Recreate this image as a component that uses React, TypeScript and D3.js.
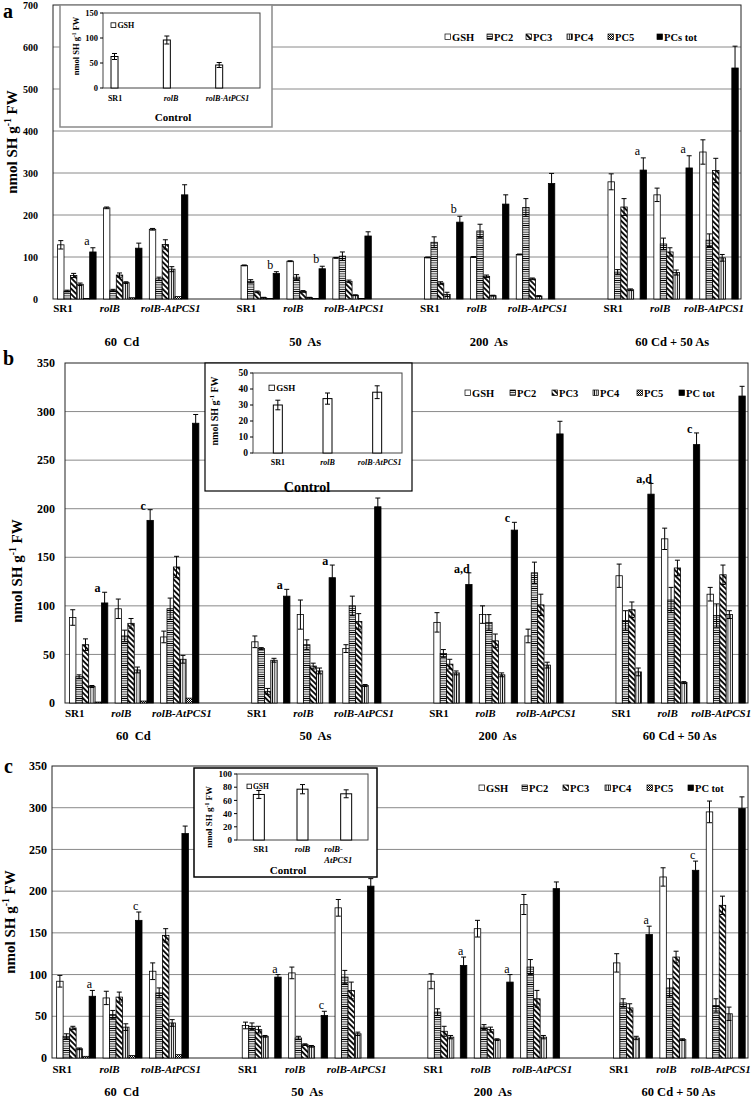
import React from "react";
import * as d3 from "d3";

const FONT = "'Liberation Serif', 'Times New Roman', serif";

// ---------- shared categories ----------
const treatments = ["60  Cd", "50  As", "200  As", "60 Cd + 50 As"];
const genotypes = ["SR1", "rolB", "rolB-AtPCS1"];
const seriesKeys = ["GSH", "PC2", "PC3", "PC4", "PC5", "PCtot"];
const legendA = ["GSH", "PC2", "PC3", "PC4", "PC5", "PCs tot"];
const legendBC = ["GSH", "PC2", "PC3", "PC4", "PC5", "PC tot"];

// ---------- panel a ----------
const aGSH = [129, 217, 166, 80, 90, 98, 99, 100, 106, 279, 248, 350];
const aGSHErr = [10, 2, 2, 1, 1, 1, 1, 1, 1, 19, 16, 29];
const aPC2 = [19, 21, 48, 42, 52, 102, 135, 162, 218, 64, 131, 140];
const aPC2Err = [2, 2, 4, 4, 6, 10, 13, 16, 21, 6, 14, 15];
const aPC3 = [56, 57, 130, 17, 18, 42, 38, 54, 48, 219, 112, 306];
const aPC3Err = [5, 5, 11, 2, 2, 3, 3, 3, 2, 20, 10, 29];
const aPC4 = [35, 39, 71, 3, 3, 9, 11, 8, 7, 22, 63, 98];
const aPC4Err = [3, 2, 6, 1, 1, 1, 5, 1, 1, 2, 6, 8];
const aPC5 = [1, 3, 6, 1, 1, 1, 0, 0, 0, 0, 0, 0];
const aPC5Err = [0, 0, 0, 0, 0, 0, 0, 0, 0, 0, 0, 0];
const aTot = [112, 121, 248, 61, 72, 150, 183, 226, 275, 307, 312, 550];
const aTotErr = [10, 12, 24, 4, 6, 10, 14, 22, 24, 29, 29, 52];
const aLetters = ["a", "", "", "b", "b", "", "b", "", "", "a", "a", ""];
const aYTicks = [0, 100, 200, 300, 400, 500, 600, 700];

// panel a inset (control)
const aCtrl = [63, 96, 46];
const aCtrlErr = [6, 8, 5];
const aCtrlTicks = [0, 50, 100, 150];

// ---------- panel b ----------
const bGSH = [88, 97, 68, 63, 91, 56, 83, 91, 69, 131, 169, 112];
const bGSHErr = [8, 10, 6, 6, 15, 4, 10, 9, 7, 12, 11, 7];
const bPC2 = [27, 69, 97, 56, 60, 100, 51, 83, 134, 85, 106, 90];
const bPC2Err = [2, 6, 11, 1, 5, 10, 4, 8, 11, 10, 13, 12];
const bPC3 = [60, 82, 140, 12, 38, 84, 40, 64, 101, 96, 139, 132];
const bPC3Err = [6, 5, 11, 3, 3, 8, 5, 7, 11, 8, 8, 10];
const bPC4 = [17, 34, 45, 44, 33, 18, 31, 29, 39, 32, 21, 91];
const bPC4Err = [1, 3, 4, 2, 3, 1, 2, 2, 3, 4, 1, 4];
const bPC5 = [1, 2, 5, 0, 0, 0, 0, 0, 0, 0, 0, 0];
const bPC5Err = [0, 0, 0, 0, 0, 0, 0, 0, 0, 0, 0, 0];
const bTot = [103, 188, 288, 110, 129, 202, 122, 178, 277, 215, 266, 316];
const bTotErr = [11, 11, 9, 7, 13, 9, 12, 8, 13, 11, 12, 10];
const bLetters = ["a", "c", "", "a", "a", "", "a,d", "c", "", "a,d", "c", ""];
const bYTicks = [0, 50, 100, 150, 200, 250, 300, 350];

const bCtrl = [30, 34, 38];
const bCtrlErr = [3, 3.5, 4];
const bCtrlTicks = [0, 10, 20, 30, 40, 50];

// ---------- panel c ----------
const cGSH = [92, 72, 104, 39, 102, 180, 92, 155, 184, 114, 217, 295];
const cGSHErr = [7, 8, 10, 4, 7, 10, 9, 10, 12, 11, 11, 13];
const cPC2 = [26, 52, 78, 38, 24, 97, 55, 37, 109, 66, 84, 63];
const cPC2Err = [3, 5, 6, 4, 2, 8, 4, 3, 9, 5, 11, 8];
const cPC3 = [36, 73, 147, 34, 16, 81, 32, 34, 71, 60, 121, 183];
const cPC3Err = [2, 6, 8, 4, 1, 10, 6, 3, 10, 5, 7, 11];
const cPC4 = [11, 37, 42, 26, 14, 29, 25, 22, 25, 24, 22, 53];
const cPC4Err = [1, 4, 4, 1, 1, 2, 2, 1, 2, 2, 1, 8];
const cPC5 = [2, 3, 4, 0, 0, 0, 0, 0, 0, 0, 0, 0];
const cPC5Err = [0, 0, 0, 0, 0, 0, 0, 0, 0, 0, 0, 0];
const cTot = [74, 165, 269, 97, 51, 206, 111, 91, 203, 148, 225, 299];
const cTotErr = [7, 10, 9, 3, 5, 9, 10, 9, 8, 10, 11, 14];
const cLetters = ["a", "c", "", "a", "c", "", "a", "a", "", "a", "c", ""];
const cYTicks = [0, 50, 100, 150, 200, 250, 300, 350];

const cCtrl = [69, 77, 70];
const cCtrlErr = [6, 7, 6];
const cCtrlTicks = [0, 20, 40, 60, 80, 100];

const fills: Record<string, string> = {
  GSH: "#fff",
  PC2: "url(#pPC2)",
  PC3: "url(#pPC3)",
  PC4: "url(#pPC4)",
  PC5: "url(#pPC5)",
  PCtot: "#000",
};

type Series = { key: string; vals: number[]; errs: number[] };

function YTitle({ x, y, size }: { x: number; y: number; size: number }) {
  return (
    <text
      transform={`translate(${x},${y}) rotate(-90)`}
      textAnchor="middle"
      fontWeight="bold"
      fontSize={size}
      fontFamily={FONT}
      fill="#000"
    >
      nmol SH g
      <tspan dy={-size * 0.38} fontSize={size * 0.65}>
        -1
      </tspan>
      <tspan dy={size * 0.38}> FW</tspan>
    </text>
  );
}

function ErrBar({ x, y0, y1, cap }: { x: number; y0: number; y1: number; cap: number }) {
  return (
    <g stroke="#000" strokeWidth={1}>
      <line x1={x} x2={x} y1={y0} y2={y1} />
      <line x1={x - cap / 2} x2={x + cap / 2} y1={y0} y2={y0} />
      <line x1={x - cap / 2} x2={x + cap / 2} y1={y1} y2={y1} />
    </g>
  );
}

function Panel(p: any) {
  const series: Series[] = p.series;
  const y = d3.scaleLinear().domain([0, p.max]).range([p.bottom, p.top]);
  const slots = d3.range(15);
  const x = d3.scaleBand<number>().domain(slots).range([p.left, p.right]).padding(0);
  const bw = x.bandwidth();
  const inner = d3
    .scaleBand<string>()
    .domain(seriesKeys)
    .range([bw * 0.1, bw * 0.94])
    .padding(0);
  const slotOf = (i: number) => Math.floor(i / 3) * 4 + (i % 3);
  const genoOffsets = [-13, -12, 3];
  return (
    <g fontFamily={FONT} fill="#000">
      {p.ticks.map((t: number) =>
        t > 0 && t < p.max ? (
          <line key={t} x1={p.left} x2={p.right} y1={y(t)} y2={y(t)} stroke="#8a8a8a" strokeWidth={1} />
        ) : null
      )}
      <rect x={p.left} y={p.top} width={p.right - p.left} height={p.bottom - p.top} fill="none" stroke="#222" strokeWidth={1} />
      {p.ticks.map((t: number) => (
        <text key={t} x={p.tickX} y={y(t) + p.tickFont * 0.35} textAnchor="end" fontWeight="bold" fontSize={p.tickFont}>
          {t}
        </text>
      ))}
      {series.map((s) =>
        s.vals.map((v, i) => {
          const bx = (x(slotOf(i)) as number) + (inner(s.key) as number);
          const w = inner.bandwidth();
          return (
            <rect
              key={s.key + i}
              x={bx}
              y={y(v)}
              width={w}
              height={y(0) - y(v)}
              fill={fills[s.key]}
              stroke="#000"
              strokeWidth={0.8}
            />
          );
        })
      )}
      {series.map((s) =>
        s.vals.map((v, i) => {
          const e = s.errs[i];
          if (!e) return null;
          const cx = (x(slotOf(i)) as number) + (inner(s.key) as number) + inner.bandwidth() / 2;
          return <ErrBar key={"e" + s.key + i} x={cx} y0={y(v + e)} y1={y(Math.max(0, v - e))} cap={5} />;
        })
      )}
      {p.letters.map((l: string, i: number) => {
        if (!l) return null;
        const tot = series[5];
        const cx = (x(slotOf(i)) as number) + (inner("PCtot") as number) + inner.bandwidth() / 2;
        return (
          <text
            key={"l" + i}
            x={cx + p.annoDx}
            y={y(tot.vals[i] + tot.errs[i]) + p.annoDy}
            textAnchor="middle"
            fontSize={12}
            fill="#000"
            fontWeight={p.annoBold ? "bold" : "normal"}
          >
            {l}
          </text>
        );
      })}
      {d3.range(12).map((i) => {
        const g = i % 3;
        const off = i === 11 ? -4 : genoOffsets[g];
        const cx = (x(slotOf(i)) as number) + bw / 2 + off;
        return (
          <text
            key={"g" + i}
            x={cx}
            y={p.labelY}
            textAnchor="middle"
            fontWeight="bold"
            fontStyle={g === 0 ? "normal" : "italic"}
            fontSize={11}
          >
            {genotypes[g]}
          </text>
        );
      })}
      {treatments.map((t, k) => (
        <text
          key={t}
          x={(x(k * 4 + 1) as number) + bw / 2}
          y={p.groupY}
          textAnchor="middle"
          fontWeight="bold"
          fontSize={12.5}
          style={{ whiteSpace: "pre" }}
        >
          {t}
        </text>
      ))}
      {seriesKeys.map((k, j) => (
        <g key={"lg" + k}>
          <rect x={p.legendX[j]} y={p.legendY - 7} width={5.5} height={5.5} fill={fills[k]} stroke="#000" strokeWidth={0.7} />
          <text x={p.legendX[j] + 7} y={p.legendY} fontWeight="bold" fontSize={10.5}>
            {p.legendLabels[j]}
          </text>
        </g>
      ))}
      <text x={p.letterX} y={p.letterY} fontWeight="bold" fontSize={20}>
        {p.letter}
      </text>
      <YTitle x={p.titleX} y={p.titleY} size={15} />
    </g>
  );
}

function Inset(p: any) {
  const y = d3.scaleLinear().domain([0, p.max]).range([p.pb, p.pt]);
  const x = d3.scaleBand<number>().domain([0, 1, 2]).range([p.pl, p.pr]).padding(0);
  const bw = x.bandwidth();
  return (
    <g fontFamily={FONT} fill="#000">
      <rect x={p.bx} y={p.by} width={p.bw} height={p.bh} fill="#fff" stroke={p.boxStroke} strokeWidth={p.boxWidth} />
      <rect x={p.pl} y={p.pt} width={p.pr - p.pl} height={p.pb - p.pt} fill="none" stroke="#444" strokeWidth={1} />
      {p.ticks.map((t: number) => (
        <g key={t}>
          <line x1={p.pl - 3} x2={p.pl} y1={y(t)} y2={y(t)} stroke="#000" />
          <text x={p.pl - 5} y={y(t) + p.tickFont * 0.35} textAnchor="end" fontWeight="bold" fontSize={p.tickFont}>
            {t}
          </text>
        </g>
      ))}
      {p.vals.map((v: number, i: number) => {
        const cx = (x(i) as number) + bw * p.barFrac;
        return (
          <g key={i}>
            <rect x={cx - p.barW / 2} y={y(v)} width={p.barW} height={y(0) - y(v)} fill="#fff" stroke="#000" strokeWidth={1} />
            <ErrBar x={cx} y0={y(v + p.errs[i])} y1={y(v - p.errs[i])} cap={5} />
          </g>
        );
      })}
      {genotypes.map((g, i) => {
        const cx = (x(i) as number) + bw * p.labelFrac[i];
        if (p.splitLast && i === 2) {
          return (
            <text key={g} x={cx} y={p.labelY} textAnchor="start" fontWeight="bold" fontStyle="italic" fontSize={p.labelFont}>
              <tspan x={cx}>rolB-</tspan>
              <tspan x={cx} dy={p.labelFont * 1.35}>
                AtPCS1
              </tspan>
            </text>
          );
        }
        return (
          <text
            key={g}
            x={cx}
            y={p.labelY}
            textAnchor="middle"
            fontWeight="bold"
            fontStyle={i === 0 ? "normal" : "italic"}
            fontSize={p.labelFont}
          >
            {g}
          </text>
        );
      })}
      <text x={p.ctrlX} y={p.ctrlY} textAnchor="middle" fontWeight="bold" fontSize={p.ctrlFont}>
        Control
      </text>
      <rect x={p.lgX} y={p.lgY - p.lgFont * 0.65} width={p.lgFont * 0.6} height={p.lgFont * 0.6} fill="#fff" stroke="#000" strokeWidth={0.8} />
      <text x={p.lgX + p.lgFont * 0.8} y={p.lgY} fontWeight="bold" fontSize={p.lgFont}>
        GSH
      </text>
      <YTitle x={p.titleX} y={p.titleY} size={p.titleFont} />
    </g>
  );
}

function mk(keys: string[], vals: number[][], errs: number[][]): Series[] {
  return keys.map((k, i) => ({ key: k, vals: vals[i], errs: errs[i] }));
}

const seriesA = mk(seriesKeys, [aGSH, aPC2, aPC3, aPC4, aPC5, aTot], [aGSHErr, aPC2Err, aPC3Err, aPC4Err, aPC5Err, aTotErr]);
const seriesB = mk(seriesKeys, [bGSH, bPC2, bPC3, bPC4, bPC5, bTot], [bGSHErr, bPC2Err, bPC3Err, bPC4Err, bPC5Err, bTotErr]);
const seriesC = mk(seriesKeys, [cGSH, cPC2, cPC3, cPC4, cPC5, cTot], [cGSHErr, cPC2Err, cPC3Err, cPC4Err, cPC5Err, cTotErr]);

export default function App() {
  return (
    <svg
      width={756}
      height={1098}
      style={{ position: "absolute", left: 0, top: 0, background: "#fff" }}
    >
      <defs>
        <pattern id="pPC2" width={4} height={2.2} patternUnits="userSpaceOnUse">
          <rect width={4} height={2.2} fill="#fff" />
          <line x1={0} x2={4} y1={1.1} y2={1.1} stroke="#000" strokeWidth={0.9} />
        </pattern>
        <pattern id="pPC3" width={4} height={3.8} patternUnits="userSpaceOnUse" patternTransform="rotate(45)">
          <rect width={4} height={3.8} fill="#fff" />
          <line x1={0} x2={4} y1={1.9} y2={1.9} stroke="#000" strokeWidth={1.8} />
        </pattern>
        <pattern id="pPC4" width={2.3} height={4} patternUnits="userSpaceOnUse">
          <rect width={2.3} height={4} fill="#fff" />
          <line x1={1.15} x2={1.15} y1={0} y2={4} stroke="#000" strokeWidth={0.9} />
        </pattern>
        <pattern id="pPC5" width={2} height={2} patternUnits="userSpaceOnUse">
          <rect width={2} height={2} fill="#fff" />
          <rect width={1} height={1} fill="#000" />
          <rect x={1} y={1} width={1} height={1} fill="#000" />
        </pattern>
      </defs>

      <Panel
        series={seriesA}
        letters={aLetters}
        ticks={aYTicks}
        max={700}
        left={53}
        right={741}
        top={5}
        bottom={299}
        tickX={38}
        tickFont={10}
        labelY={312}
        groupY={346}
        legendX={[445, 487, 526, 567, 608, 657]}
        legendY={41}
        legendLabels={legendA}
        letter="a"
        letterX={3}
        letterY={18}
        titleX={17}
        titleY={142}
        annoDx={-6}
        annoDy={-3}
        annoBold={false}
      />
      <Inset
        bx={60}
        by={5}
        bw={212}
        bh={122}
        boxStroke="#8a8a8a"
        boxWidth={1.5}
        pl={103}
        pr={260}
        pt={13}
        pb={88}
        max={150}
        ticks={aCtrlTicks}
        tickFont={8.5}
        vals={aCtrl}
        errs={aCtrlErr}
        barW={7}
        barFrac={0.22}
        labelFrac={[0.23, 0.3, 0.38]}
        labelY={101}
        labelFont={8}
        ctrlX={173}
        ctrlY={121}
        ctrlFont={11}
        lgX={111}
        lgY={28}
        lgFont={8}
        titleX={79}
        titleY={46}
        titleFont={8.5}
      />

      <Panel
        series={seriesB}
        letters={bLetters}
        ticks={bYTicks}
        max={350}
        left={65}
        right={748}
        top={363}
        bottom={703}
        tickX={55}
        tickFont={12}
        labelY={717}
        groupY={740}
        legendX={[465, 510, 552, 593, 637, 679]}
        legendY={397}
        legendLabels={legendBC}
        letter="b"
        letterX={3}
        letterY={365}
        titleX={22}
        titleY={571}
        annoDx={-7}
        annoDy={0}
        annoBold={true}
      />
      <Inset
        bx={205}
        by={363}
        bw={207}
        bh={128}
        boxStroke="#000"
        boxWidth={1.2}
        pl={253}
        pr={402}
        pt={373}
        pb={453}
        max={50}
        ticks={bCtrlTicks}
        tickFont={9.5}
        vals={bCtrl}
        errs={bCtrlErr}
        barW={9}
        barFrac={0.5}
        labelFrac={[0.5, 0.5, 0.55]}
        labelY={465}
        labelFont={8}
        ctrlX={307}
        ctrlY={492}
        ctrlFont={14}
        lgX={269}
        lgY={391}
        lgFont={9}
        titleX={218}
        titleY={411}
        titleFont={10}
      />

      <Panel
        series={seriesC}
        letters={cLetters}
        ticks={cYTicks}
        max={350}
        left={52}
        right={748}
        top={766}
        bottom={1058}
        tickX={47}
        tickFont={12}
        labelY={1073}
        groupY={1096}
        legendX={[479, 522, 563, 605, 647, 688]}
        legendY={792}
        legendLabels={legendBC}
        letter="c"
        letterX={4}
        letterY={773}
        titleX={15}
        titleY={922}
        annoDx={-3}
        annoDy={-2}
        annoBold={false}
      />
      <Inset
        bx={194}
        by={768}
        bw={183}
        bh={109}
        boxStroke="#000"
        boxWidth={1.5}
        pl={237}
        pr={368}
        pt={774}
        pb={840}
        max={100}
        ticks={cCtrlTicks}
        tickFont={9}
        vals={cCtrl}
        errs={cCtrlErr}
        barW={11}
        barFrac={0.5}
        labelFrac={[0.55, 0.5, 0.0]}
        labelY={852}
        labelFont={8.5}
        splitLast={true}
        ctrlX={288}
        ctrlY={874}
        ctrlFont={11}
        lgX={247}
        lgY={789}
        lgFont={7.5}
        titleX={212}
        titleY={817}
        titleFont={9}
      />
    </svg>
  );
}
